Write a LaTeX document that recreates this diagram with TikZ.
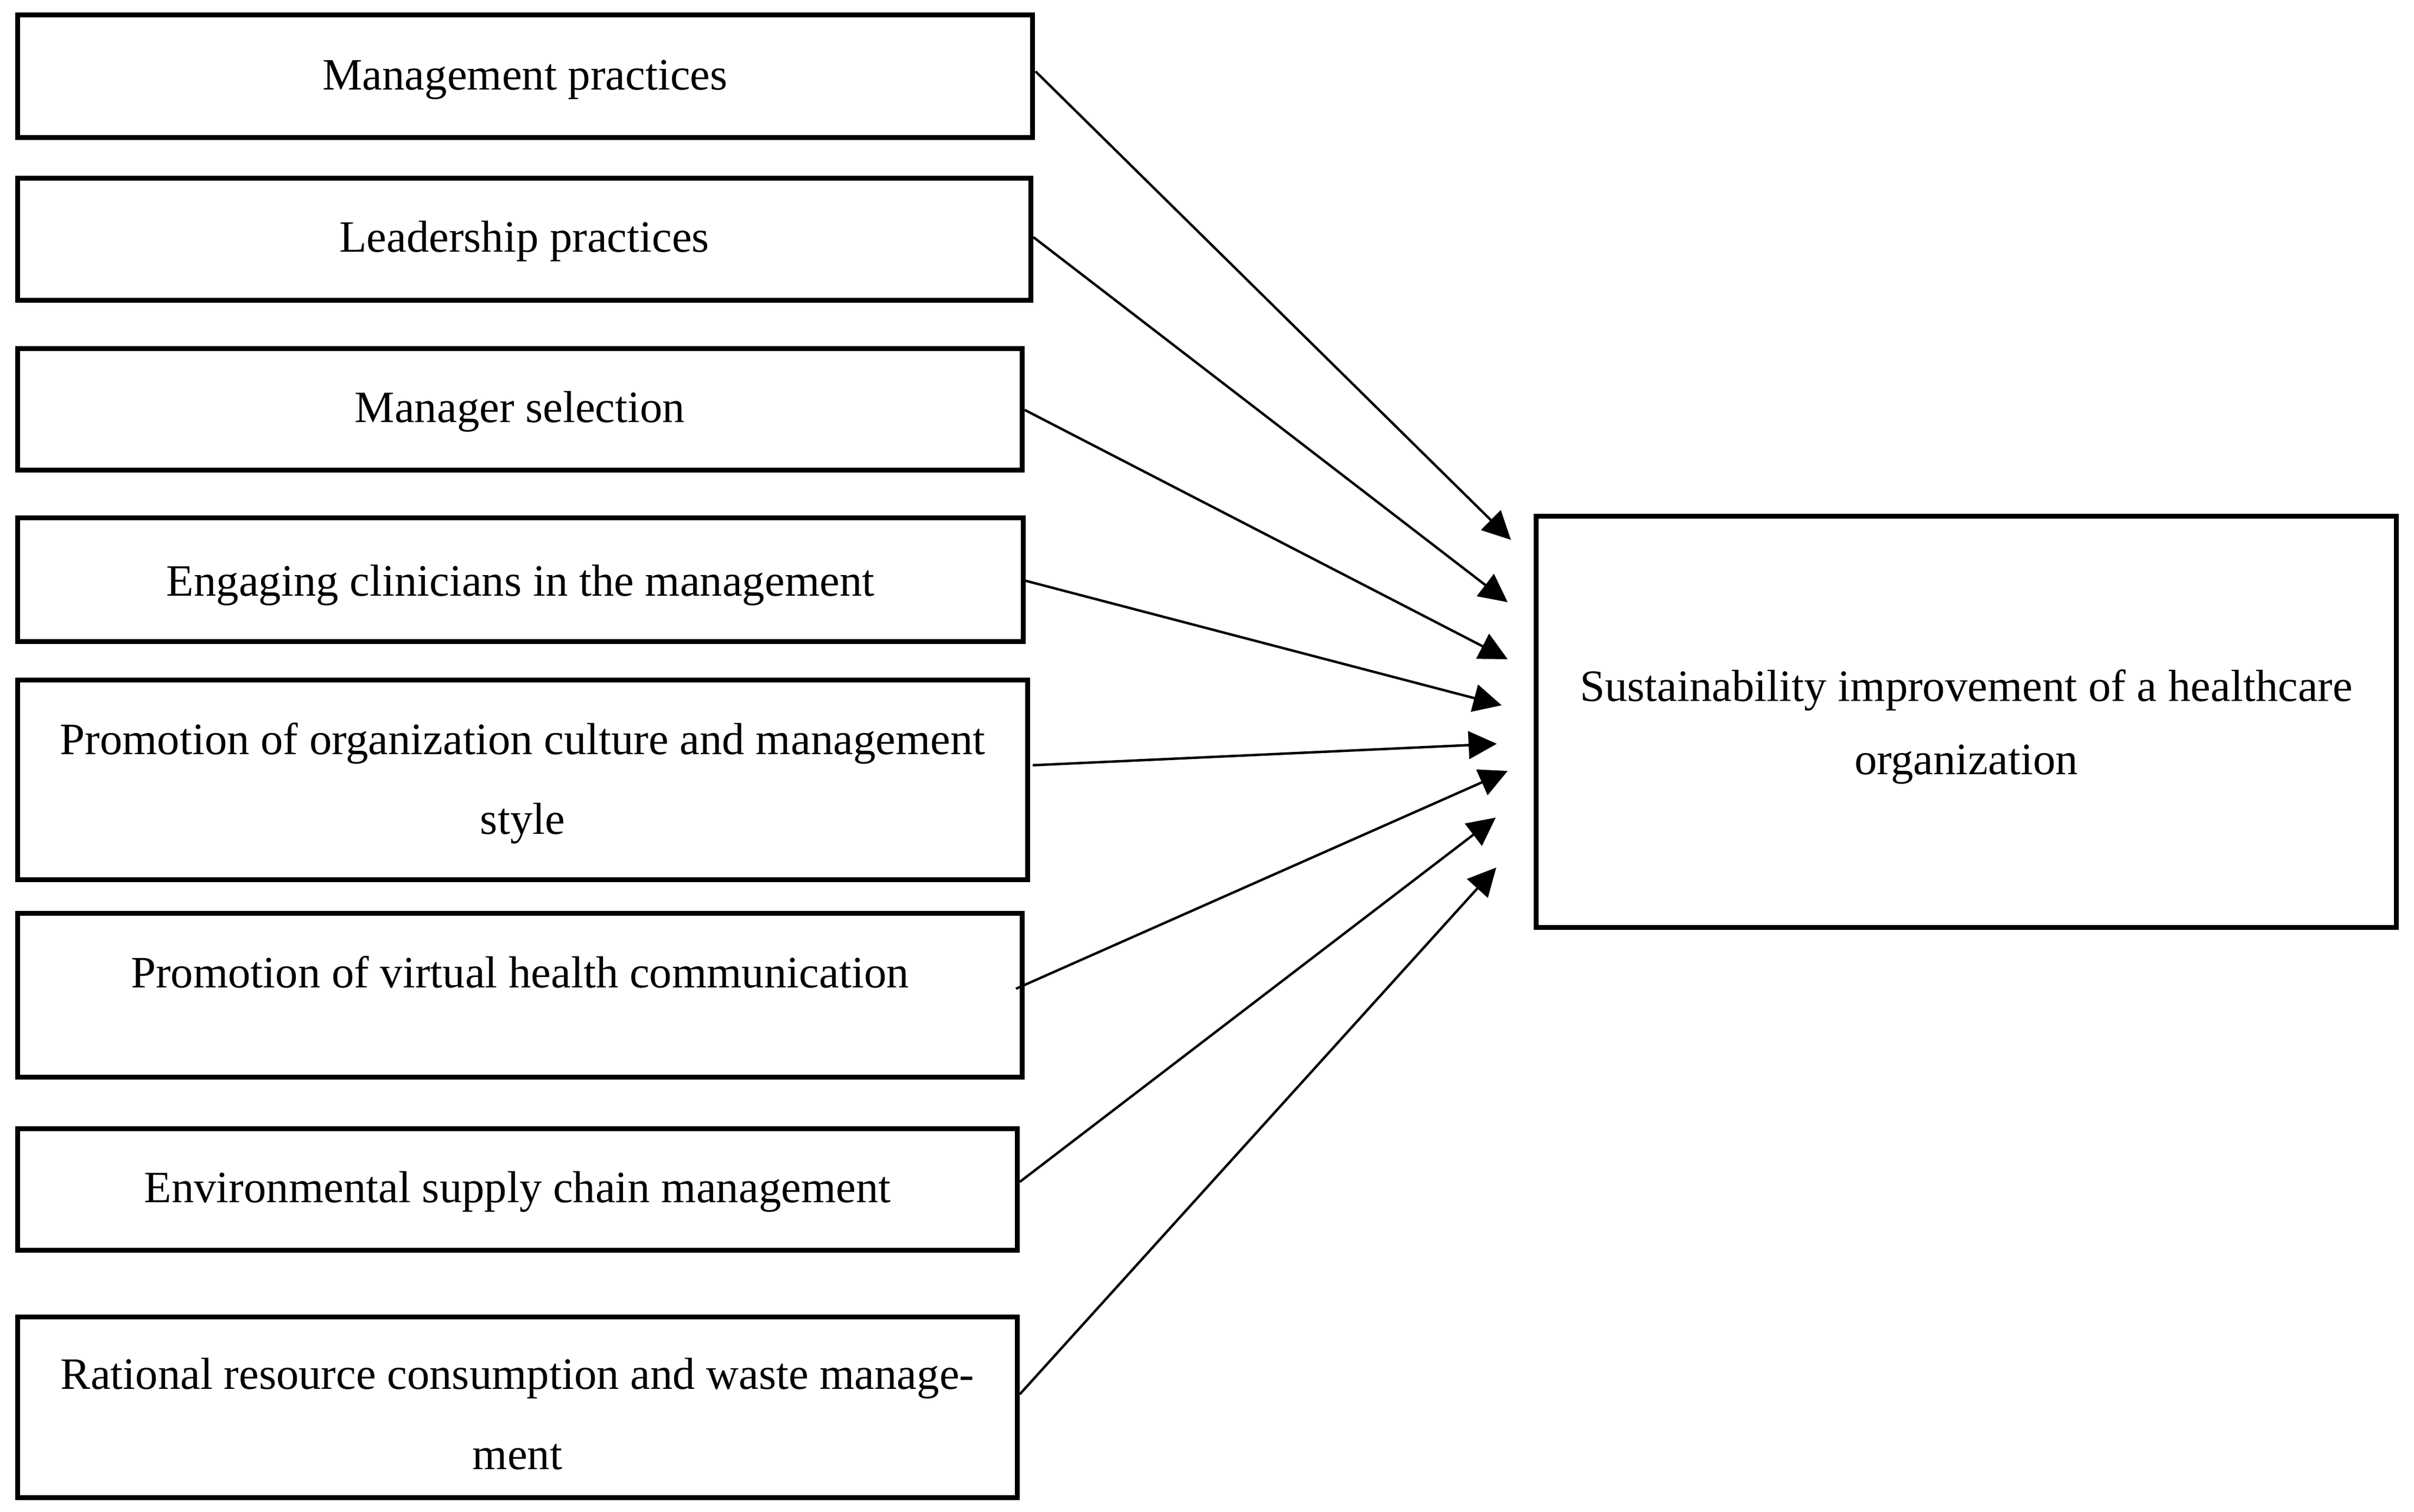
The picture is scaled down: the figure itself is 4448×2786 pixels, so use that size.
\documentclass[tikz,border=0pt]{standalone}
\usepackage{fontspec}
\setmainfont{Liberation Serif}
\usetikzlibrary{arrows.meta,calc}
\begin{document}
\begin{tikzpicture}[x=0.1pt,y=-0.1pt,
  box/.style={draw=black, line width=0.9pt, rectangle, inner sep=0pt, align=center,
    font=\fontsize{8.27pt}{14.7pt}\selectfont},
  conn/.style={line width=0.45pt, -{Triangle[length=5.2pt,width=5.1pt]}}]
\useasboundingbox (0,0) rectangle (4448,2786);
\node[box, text height=6.7pt, text depth=1.8pt, minimum width=1870*0.1pt, minimum height=226*0.1pt] (b1) at (967.5,140.5) {Management practices};
\node[box, text height=6.7pt, text depth=2.1pt, minimum width=1867*0.1pt, minimum height=225*0.1pt] (b2) at (966,441) {Leadership practices};
\node[box, text height=6.7pt, text depth=2.0pt, minimum width=1851*0.1pt, minimum height=224*0.1pt] (b3) at (958,754.5) {Manager selection};
\node[box, text height=6.7pt, text depth=0.8pt, minimum width=1853*0.1pt, minimum height=228*0.1pt] (b4) at (959,1068.5) {Engaging clinicians in the management};
\node[box, text height=21.9pt, text depth=2pt, minimum width=1861*0.1pt, minimum height=368*0.1pt] (b5) at (963,1437.5) {Promotion of organization culture and management\\style};
\node[box, align=none, text height=7pt, text depth=9.8pt, minimum width=1851*0.1pt, minimum height=302*0.1pt] (b6) at (958,1834.5) {Promotion of virtual health communication};
\node[box, text height=6.7pt, text depth=2.0pt, minimum width=1842*0.1pt, minimum height=224*0.1pt] (b7) at (953.5,2192.5) {Environmental supply chain management};
\node[box, font=\fontsize{8.27pt}{14.8pt}\selectfont, text height=24.8pt, text depth=2pt, minimum width=1842*0.1pt, minimum height=333*0.1pt] (b8) at (953.5,2594) {Rational resource consumption and waste manage-\\ment};
\node[box, font=\fontsize{8.27pt}{13.5pt}\selectfont, text height=21.3pt, text depth=2pt, minimum width=1585*0.1pt, minimum height=758*0.1pt] (goal) at (3623,1330.5) {Sustainability improvement of a healthcare\\organization};
\coordinate (t1) at (2784,995);
\coordinate (t2) at (2778,1110);
\coordinate (t3) at (2778,1215);
\coordinate (t4) at (2767,1300);
\coordinate (t5) at (2758,1371);
\coordinate (t6) at (2778,1421);
\coordinate (t7) at (2756,1507);
\coordinate (t8) at (2757,1599);
\draw[conn] ($(b1.east)+(1,-9)$) -- (t1);
\draw[conn] ($(b2.east)+(0,-4)$) -- (t2);
\draw[conn] ($(b3.east)+(0,1)$) -- (t3);
\draw[conn] ($(b4.east)+(0,2)$) -- (t4);
\draw[conn] ($(b5.east)+(5,-27)$) -- (t5);
\draw[conn] ($(b6.east)+(-16,-12)$) -- (t6);
\draw[conn] ($(b7.east)+(0,-14)$) -- (t7);
\draw[conn] ($(b8.east)+(0,-24)$) -- (t8);
\end{tikzpicture}
\end{document}
